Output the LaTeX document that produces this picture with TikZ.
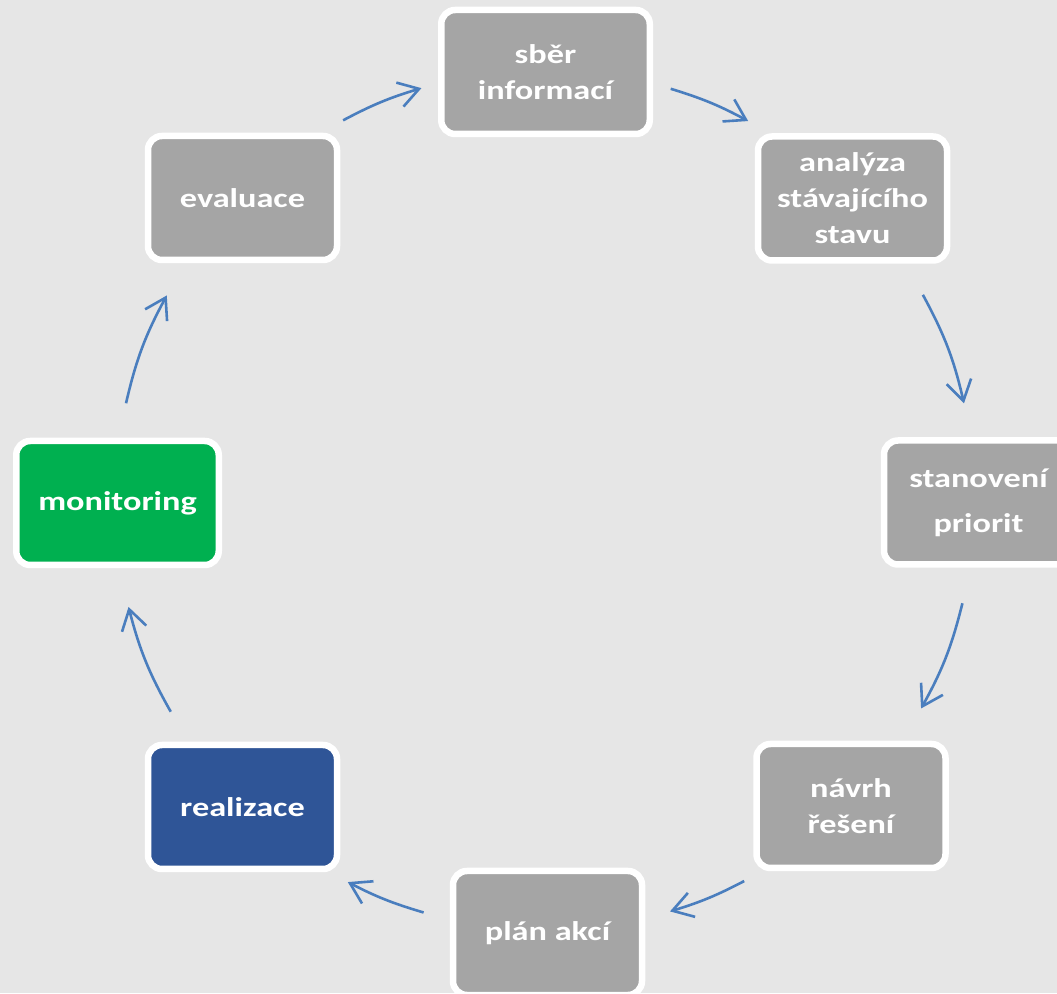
\documentclass[tikz,border=0pt]{standalone}
\usepackage{fontspec}
\setmainfont{Carlito}[FakeStretch=1.27]
\usetikzlibrary{arrows.meta,calc}
\definecolor{bg}{RGB}{230,230,230}
\definecolor{boxgray}{RGB}{165,165,165}
\definecolor{boxgreen}{RGB}{0,176,80}
\definecolor{boxblue}{RGB}{47,85,151}
\definecolor{arrowblue}{RGB}{74,126,190}
\begin{document}
\begin{tikzpicture}[x=1pt,y=1pt,
  stage/.style={draw=white, line width=6.5pt, rounded corners=14pt, fill=boxgray,
    text=white, font=\fontsize{27}{36}\selectfont\bfseries, align=center,
    inner sep=0pt, minimum height=124pt, minimum width=189pt},
  cyc/.style={draw=arrowblue, line width=2.6pt,
    -{Straight Barb[length=20pt,width=25pt]}}]
\useasboundingbox (0,0) rectangle (1057,993);
\clip (0,0) rectangle (1057,993);
\fill[bg] (0,0) rectangle (1057,993);

\node[stage, minimum width=208.5pt] (sber) at (545.5,921) {sběr\\informací};
\node[stage] (analyza) at (852.5,794.5) {analýza\\stávajícího\\stavu};
\node[stage] (stanoveni) at (978.5,490.5) {stanovení\\[9pt]priorit};
\node[stage] (navrh) at (851,187) {návrh\\řešení};
\node[stage] (plan) at (547.5,60) {plán akcí};
\node[stage, fill=boxblue] (realizace) at (242.5,186) {realizace};
\node[stage, fill=boxgreen, minimum width=202.5pt] (monitoring) at (117.5,490) {monitoring};
\node[stage] (evaluace) at (242.5,795) {evaluace};

\coordinate (O) at (545,493);
\foreach \n/\s/\e in {1/118/106.7, 2/73/61.8, 3/28.5/13, 4/-13.9/-29,
                      5/-62.4/-73.1, 6/-106.4/-117.3, 7/-150.5/-165.6, 8/167/151.6}{
  \coordinate (a\n s) at ($(O)+(\s:430)$);
  \coordinate (a\n e) at ($(O)+(\e:430)$);
}
\draw[cyc] (a1s) to[bend left=5.65] (a1e);
\draw[cyc] (a2s) to[bend left=5.6] (a2e);
\draw[cyc] (a3s) to[bend left=7.75] (a3e);
\draw[cyc] (a4s) to[bend left=7.55] (a4e);
\draw[cyc] (a5s) to[bend left=5.35] (a5e);
\draw[cyc] (a6s) to[bend left=5.45] (a6e);
\draw[cyc] (a7s) to[bend left=7.55] (a7e);
\draw[cyc] (a8s) to[bend left=7.7] (a8e);
\end{tikzpicture}
\end{document}
